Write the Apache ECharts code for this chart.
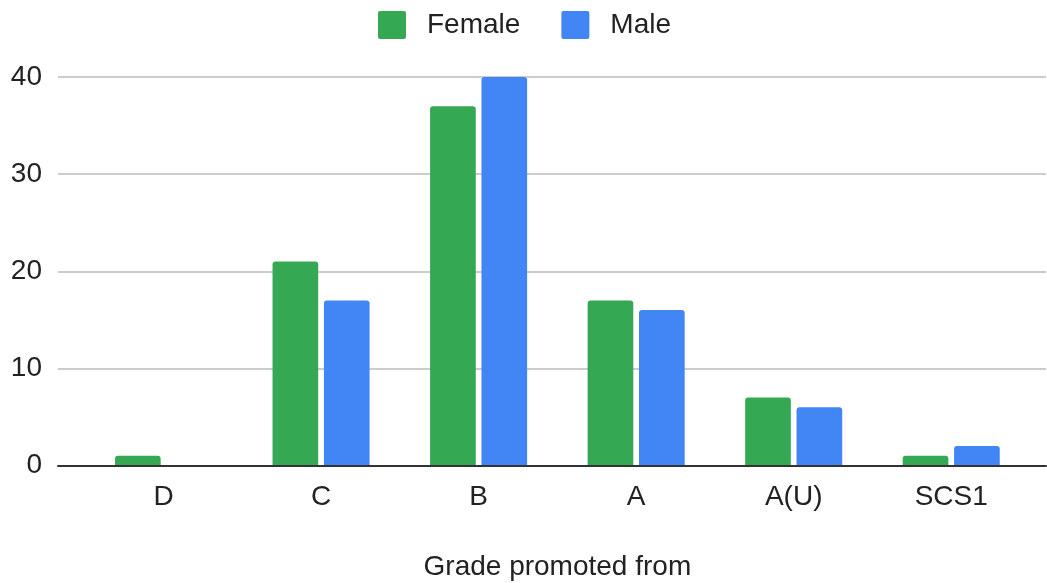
<!DOCTYPE html>
<html>
<head>
<meta charset="utf-8">
<script src="https://cdn.jsdelivr.net/npm/echarts@6/dist/echarts.min.js"></script>
<style>
  html, body { margin: 0; padding: 0; background: #fff; }
  #chart { width: 1047px; height: 583px; }
</style>
</head>
<body>
<div id="chart"></div>
<script>
// Promotions by previous grade, split by gender
const grades = ['D', 'C', 'B', 'A', 'A(U)', 'SCS1'];
const female = [1, 21, 37, 17, 7, 1];
const male = [0, 17, 40, 16, 6, 2];
const yTicks = { min: 0, max: 40, step: 10 };
const axisTitle = 'Grade promoted from';

const FONT = '"Liberation Sans", Arial, sans-serif';
const GREEN = '#34A853';
const BLUE = '#4285F4';
const squareIcon = 'path://M2,0H26A2,2 0 0 1 28,2V26A2,2 0 0 1 26,28H2A2,2 0 0 1 0,26V2A2,2 0 0 1 2,0Z';

const chart = echarts.init(document.getElementById('chart'), null, { renderer: 'canvas' });

chart.setOption({
  animation: false,
  backgroundColor: '#fff',
  textStyle: { fontFamily: FONT },
  legend: {
    left: 378,
    top: 11,
    padding: 0,
    itemWidth: 28,
    itemHeight: 28,
    itemGap: 41,
    icon: squareIcon,
    textStyle: { fontSize: 28, color: '#222', fontFamily: FONT, padding: [0, 0, 0, 16] },
    data: ['Female', 'Male']
  },
  grid: [
    // frame grid: gridlines and baseline span the full width
    { left: 58, right: 1, top: 77, bottom: 117.5, containLabel: false, outerBoundsMode: 'none' },
    // bar grid: category bands
    { left: 84.75, right: 17, top: 77, bottom: 117.5, containLabel: false, outerBoundsMode: 'none' }
  ],
  xAxis: [
    {
      gridIndex: 0,
      type: 'category',
      data: grades,
      z: 5,
      axisLine: { show: true, lineStyle: { color: '#333', width: 2 } },
      axisTick: { show: false },
      axisLabel: { show: false },
      splitLine: { show: false }
    },
    {
      gridIndex: 1,
      type: 'category',
      data: grades,
      axisLine: { show: false },
      axisTick: { show: false },
      axisLabel: { fontSize: 28, color: '#222', margin: 18, fontFamily: FONT },
      name: axisTitle,
      nameLocation: 'middle',
      nameGap: 88,
      nameTextStyle: { fontSize: 28, color: '#222', fontFamily: FONT }
    }
  ],
  yAxis: [
    {
      gridIndex: 0,
      type: 'value',
      min: yTicks.min,
      max: yTicks.max,
      interval: yTicks.step,
      axisLine: { show: false },
      axisTick: { show: false },
      axisLabel: { fontSize: 28, color: '#222', margin: 16, fontFamily: FONT },
      splitLine: { show: true, lineStyle: { color: '#cccccc', width: 2 } }
    },
    {
      gridIndex: 1,
      type: 'value',
      min: yTicks.min,
      max: yTicks.max,
      interval: yTicks.step,
      axisLine: { show: false },
      axisTick: { show: false },
      axisLabel: { show: false },
      splitLine: { show: false }
    }
  ],
  series: [
    {
      name: 'Female',
      type: 'bar',
      xAxisIndex: 1,
      yAxisIndex: 1,
      data: female,
      barGap: '12.5%',
      barCategoryGap: '38.4%',
      itemStyle: { color: GREEN, borderRadius: [3, 3, 0, 0] }
    },
    {
      name: 'Male',
      type: 'bar',
      xAxisIndex: 1,
      yAxisIndex: 1,
      data: male,
      barGap: '12.5%',
      barCategoryGap: '38.4%',
      itemStyle: { color: BLUE, borderRadius: [3, 3, 0, 0] }
    }
  ]
});
</script>
</body>
</html>
